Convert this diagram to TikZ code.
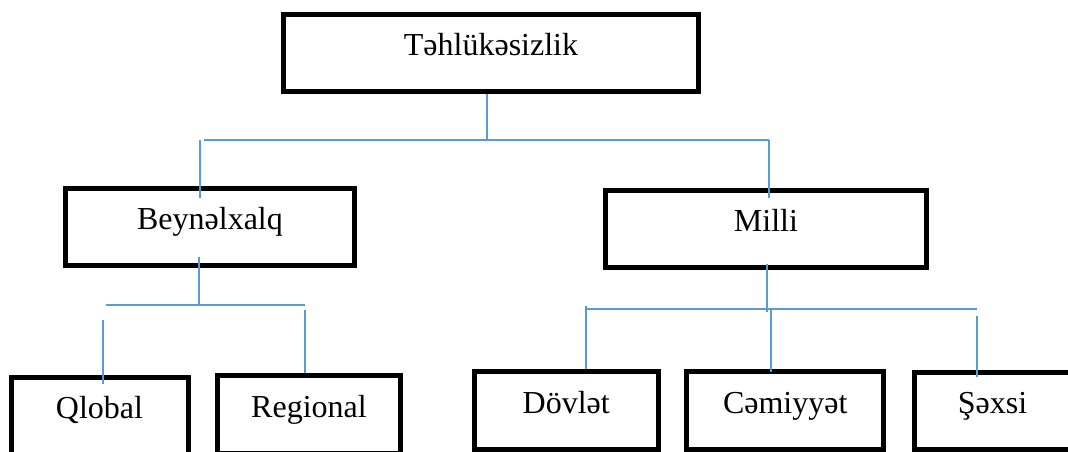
\documentclass[tikz,border=0pt]{standalone}
\usepackage{fontspec}
\setmainfont{Liberation Serif}
\usetikzlibrary{calc}
\definecolor{linkblue}{RGB}{91,155,213}
\tikzset{
  box/.style={draw, line width=3.75pt, inner sep=0pt, anchor=north west, align=center,
    text width=#1, text height=31pt, text depth=26.75pt, font=\fontsize{24}{28}\selectfont},
  link/.style={draw=linkblue, line width=1.5pt}
}
\begin{document}
\begin{tikzpicture}[x=0.75pt,y=-0.75pt]
        \newcommand{\figtreebusay}{140}
        \newcommand{\figtreebusby}{305.5}
        \newcommand{\figtreebuscy}{309.5}
        \useasboundingbox (0,0) rectangle (1068,452);
        \node[box=311.25pt] (top) at (281,12) {Təhlükəsizlik};
        \node[box=216.75pt] (beyn) at (63,186) {Beynəlxalq};
        \node[box=240.75pt] (milli) at (603,188) {Milli};
        \node[box=132.75pt] (qlobal) at (8.5,375) {Qlobal};
        \node[box=137.25pt] (regional) at (215,373.5) {Regional};
        \node[box=138.3pt] (dovlet) at (471.5,369.5) {Dövlət};
        \node[box=148.1pt] (cemiyyet) at (684,369.5) {Cəmiyyət};
        \node[box=117pt] (sexsi) at (912,370) {Şəxsi};
        \coordinate (ta) at (487,\figtreebusay);
        \coordinate (ba1) at (204,\figtreebusay);
        \coordinate (ba2) at (769,\figtreebusay);
        \coordinate (da1) at (199.5,\figtreebusay);
        \draw[link] (top.south -| ta) -- (ta);
        \draw[link] (ba1) -- (ba2);
        \draw[link, shorten >=-9pt] (da1) -- (beyn.north -| da1);
        \draw[link, shorten >=-7.5pt] (ba2) -- (milli.north -| ba2);
        \coordinate (tb) at (199,\figtreebusby);
        \coordinate (bb1) at (106,\figtreebusby);
        \coordinate (bb2) at (305,\figtreebusby);
        \coordinate (db1) at (103,320);
        \coordinate (db2) at (305,310);
        \draw[link, shorten <=-8.25pt] (beyn.south -| tb) -- (tb);
        \draw[link] (bb1) -- (bb2);
        \draw[link, shorten >=-6.75pt] (db1) -- (qlobal.north -| db1);
        \draw[link] (db2) -- (regional.north -| db2);
        \coordinate (tc) at (767,312.5);
        \coordinate (bc1) at (586,\figtreebuscy);
        \coordinate (bc2) at (976.5,\figtreebuscy);
        \coordinate (dc1) at (586,306);
        \coordinate (dc2) at (771,\figtreebuscy);
        \coordinate (dc3) at (976.5,316.5);
        \draw[link, shorten <=-4.5pt] (milli.south -| tc) -- (tc);
        \draw[link] (bc1) -- (bc2);
        \draw[link] (dc1) -- (dovlet.north -| dc1);
        \draw[link, shorten >=-2pt] (dc2) -- (cemiyyet.north -| dc2);
        \draw[link, shorten >=-5.25pt] (dc3) -- (sexsi.north -| dc3);
    \end{tikzpicture}
\end{document}
